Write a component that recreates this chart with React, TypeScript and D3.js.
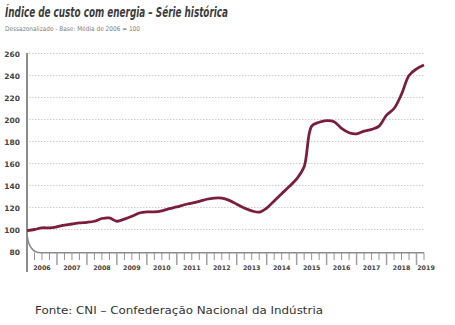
import React from "react";
import * as d3 from "d3";

const years = ["2006","2007","2008","2009","2010","2011","2012","2013","2014","2015","2016","2017","2018","2019"];
const yTicks = [80,100,120,140,160,180,200,220,240,260];
const gridTicks = [100,120,140,160,180,200,220,240,260];
// quarterly index values, 2006 Q1 onward
const values = [
  99,100,101.5,101.5,102.5,104,105,106,106.5,107.5,110,110.5,107.5,109.5,
  112,115,116,116,117,119,120.5,122.5,124,125.5,127.5,128.5,128.5,126.5,
  123,119.5,117,115.8,119.5,126,132.5,139,146,157,194,197.5,199,198,
  192,188,187,189.5,191,194,204,210,223,240,246,249.5
];

const W = 455, H = 325;

export default function App() {
  const x = d3.scaleLinear().domain([0, values.length - 1]).range([27, 424]);
  const y = d3.scaleLinear().domain([80, 260]).range([251.5, 53.5]);
  const line = d3.line<number>().x((_, i) => x(i)).y(d => y(d)).curve(d3.curveCatmullRom.alpha(0.5));
  const baseY = 252.7;
  const quarterIdx = d3.range(1, values.length);
  return (
    <svg width={W} height={H} style={{ position: "absolute", left: 0, top: 0, background: "#fff" }}>
      <text x={5} y={17} fontFamily="DejaVu Sans" fontStyle="italic" fontWeight="bold" fontSize={13.2}
        fill="#3c3c3c" style={{ fontStretch: "condensed" }} textLength={223} lengthAdjust="spacingAndGlyphs">
        Índice de custo com energia – Série histórica
      </text>
      <text x={5} y={31} fontFamily="DejaVu Sans" fontSize={6.5} fill="#808080"
        textLength={135} lengthAdjust="spacingAndGlyphs">
        Dessazonalizado - Base: Média de 2006 = 100
      </text>
      {gridTicks.map(t => (
        <line key={t} x1={29} x2={425} y1={y(t)} y2={y(t)} stroke="#c8c8c8" strokeWidth={0.9} strokeDasharray="1.5,1.5" />
      ))}
      {yTicks.map(t => (
        <text key={t} x={20} y={y(t) + 3} textAnchor="end" fontFamily="DejaVu Sans" fontWeight="bold"
          fontSize={7.5} fill="#444">{t}</text>
      ))}
      <line x1={27} x2={27} y1={53} y2={272} stroke="#8c8c8c" strokeWidth={2} />
      <path d={`M27,${y(100) + 3} Q28,${baseY} 41,${baseY}`} fill="none" stroke="#8c8c8c" strokeWidth={1.6} />
      <line x1={41} x2={424} y1={baseY} y2={baseY} stroke="#8c8c8c" strokeWidth={1.6} />
      {quarterIdx.map(i => (
        <line key={i} x1={x(i)} x2={x(i)} y1={baseY} y2={i % 4 === 0 ? 265 : 260}
          stroke={i % 4 === 0 ? "#a0a0a0" : "#929292"} strokeWidth={i % 4 === 0 ? 1.5 : 1} />
      ))}
      {years.map((yr, k) => {
        const cx = k === years.length - 1 ? x(values.length - 1) + 2 : x(k * 4 + 2);
        return (
          <text key={yr} x={cx} y={270} textAnchor="middle" fontFamily="DejaVu Sans" fontWeight="bold"
            fontSize={6.3} fill="#444">{yr}</text>
        );
      })}
      <path d={line(values) || ""} fill="none" stroke="#7b1e3e" strokeWidth={2.8} strokeLinejoin="round" />
      <text x={35} y={314} fontFamily="DejaVu Sans" fontSize={11} fill="#333"
        textLength={288} lengthAdjust="spacingAndGlyphs">
        Fonte: CNI – Confederação Nacional da Indústria
      </text>
    </svg>
  );
}
